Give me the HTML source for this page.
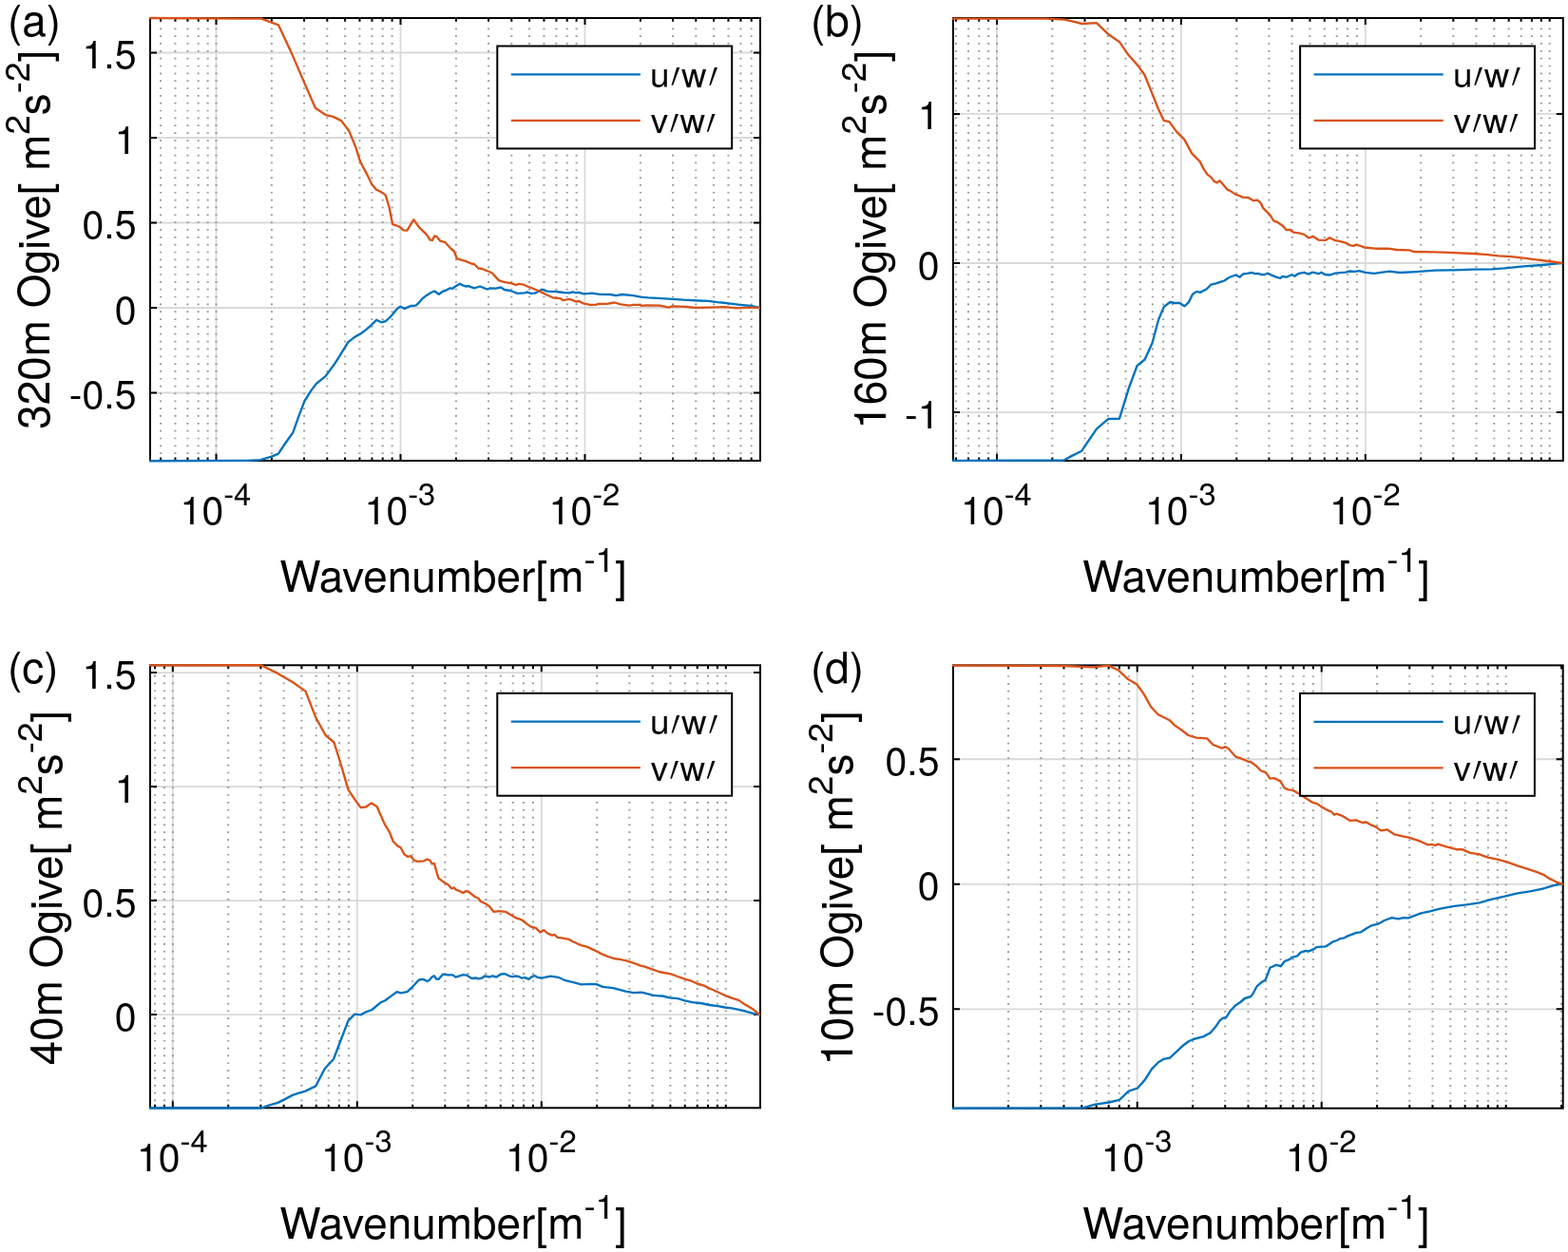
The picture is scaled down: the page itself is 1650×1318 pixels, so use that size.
<!DOCTYPE html>
<html><head><meta charset="utf-8"><style>
html,body{margin:0;padding:0;background:#fff;}
svg{display:block;}
.mg{stroke:#979797;stroke-width:2.0;stroke-dasharray:1.7 6.14;stroke-dashoffset:0.85;}
.Mg{stroke:#d9d9d9;stroke-width:1.8;}
</style></head><body>
<svg width="1650" height="1318" viewBox="0 0 1650 1318" font-family="TeX Gyre Heros, Liberation Sans, Arial, sans-serif">
<rect width="1650" height="1318" fill="#fff"/>
<g><line x1="227.50" y1="485.00" x2="227.50" y2="19.00" class="Mg"/><line x1="421.50" y1="485.00" x2="421.50" y2="19.00" class="Mg"/><line x1="615.50" y1="485.00" x2="615.50" y2="19.00" class="Mg"/><line x1="158.00" y1="55.50" x2="800.00" y2="55.50" class="Mg"/><line x1="158.00" y1="145.00" x2="800.00" y2="145.00" class="Mg"/><line x1="158.00" y1="234.50" x2="800.00" y2="234.50" class="Mg"/><line x1="158.00" y1="324.00" x2="800.00" y2="324.00" class="Mg"/><line x1="158.00" y1="413.50" x2="800.00" y2="413.50" class="Mg"/><line x1="169.10" y1="485.00" x2="169.10" y2="19.00" class="mg"/><line x1="184.46" y1="485.00" x2="184.46" y2="19.00" class="mg"/><line x1="197.45" y1="485.00" x2="197.45" y2="19.00" class="mg"/><line x1="208.70" y1="485.00" x2="208.70" y2="19.00" class="mg"/><line x1="218.62" y1="485.00" x2="218.62" y2="19.00" class="mg"/><line x1="227.50" y1="485.00" x2="227.50" y2="19.00" class="mg"/><line x1="285.90" y1="485.00" x2="285.90" y2="19.00" class="mg"/><line x1="320.06" y1="485.00" x2="320.06" y2="19.00" class="mg"/><line x1="344.30" y1="485.00" x2="344.30" y2="19.00" class="mg"/><line x1="363.10" y1="485.00" x2="363.10" y2="19.00" class="mg"/><line x1="378.46" y1="485.00" x2="378.46" y2="19.00" class="mg"/><line x1="391.45" y1="485.00" x2="391.45" y2="19.00" class="mg"/><line x1="402.70" y1="485.00" x2="402.70" y2="19.00" class="mg"/><line x1="412.62" y1="485.00" x2="412.62" y2="19.00" class="mg"/><line x1="479.90" y1="485.00" x2="479.90" y2="19.00" class="mg"/><line x1="514.06" y1="485.00" x2="514.06" y2="19.00" class="mg"/><line x1="538.30" y1="485.00" x2="538.30" y2="19.00" class="mg"/><line x1="557.10" y1="485.00" x2="557.10" y2="19.00" class="mg"/><line x1="572.46" y1="485.00" x2="572.46" y2="19.00" class="mg"/><line x1="585.45" y1="485.00" x2="585.45" y2="19.00" class="mg"/><line x1="596.70" y1="485.00" x2="596.70" y2="19.00" class="mg"/><line x1="606.62" y1="485.00" x2="606.62" y2="19.00" class="mg"/><line x1="673.90" y1="485.00" x2="673.90" y2="19.00" class="mg"/><line x1="708.06" y1="485.00" x2="708.06" y2="19.00" class="mg"/><line x1="732.30" y1="485.00" x2="732.30" y2="19.00" class="mg"/><line x1="751.10" y1="485.00" x2="751.10" y2="19.00" class="mg"/><line x1="766.46" y1="485.00" x2="766.46" y2="19.00" class="mg"/><line x1="779.45" y1="485.00" x2="779.45" y2="19.00" class="mg"/><line x1="790.70" y1="485.00" x2="790.70" y2="19.00" class="mg"/></g>
<path d="M169.10 485.00v-3.6M169.10 19.00v3.6M184.46 485.00v-3.6M184.46 19.00v3.6M197.45 485.00v-3.6M197.45 19.00v3.6M208.70 485.00v-3.6M208.70 19.00v3.6M218.62 485.00v-3.6M218.62 19.00v3.6M227.50 485.00v-3.6M227.50 19.00v3.6M285.90 485.00v-3.6M285.90 19.00v3.6M320.06 485.00v-3.6M320.06 19.00v3.6M344.30 485.00v-3.6M344.30 19.00v3.6M363.10 485.00v-3.6M363.10 19.00v3.6M378.46 485.00v-3.6M378.46 19.00v3.6M391.45 485.00v-3.6M391.45 19.00v3.6M402.70 485.00v-3.6M402.70 19.00v3.6M412.62 485.00v-3.6M412.62 19.00v3.6M479.90 485.00v-3.6M479.90 19.00v3.6M514.06 485.00v-3.6M514.06 19.00v3.6M538.30 485.00v-3.6M538.30 19.00v3.6M557.10 485.00v-3.6M557.10 19.00v3.6M572.46 485.00v-3.6M572.46 19.00v3.6M585.45 485.00v-3.6M585.45 19.00v3.6M596.70 485.00v-3.6M596.70 19.00v3.6M606.62 485.00v-3.6M606.62 19.00v3.6M673.90 485.00v-3.6M673.90 19.00v3.6M708.06 485.00v-3.6M708.06 19.00v3.6M732.30 485.00v-3.6M732.30 19.00v3.6M751.10 485.00v-3.6M751.10 19.00v3.6M766.46 485.00v-3.6M766.46 19.00v3.6M779.45 485.00v-3.6M779.45 19.00v3.6M790.70 485.00v-3.6M790.70 19.00v3.6M227.50 485.00v-7.0M227.50 19.00v7.0M421.50 485.00v-7.0M421.50 19.00v7.0M615.50 485.00v-7.0M615.50 19.00v7.0M158.00 55.50h7.0M800.00 55.50h-7.0M158.00 145.00h7.0M800.00 145.00h-7.0M158.00 234.50h7.0M800.00 234.50h-7.0M158.00 324.00h7.0M800.00 324.00h-7.0M158.00 413.50h7.0M800.00 413.50h-7.0" stroke="#000" stroke-width="2" fill="none"/>
<rect x="158.00" y="19.00" width="642.00" height="466.00" fill="none" stroke="#000" stroke-width="2"/>
<polyline points="158.0,485.2 260.0,484.8 274.2,484.1 285.8,480.6 292.9,477.6 300.0,467.0 308.4,455.2 314.2,438.7 320.6,421.9 327.1,411.6 332.9,403.8 342.5,396.1 351.6,383.8 359.3,371.6 366.4,360.2 373.5,354.6 380.0,351.0 385.1,347.1 390.3,342.6 396.1,336.8 401.2,339.3 405.8,338.1 410.9,333.5 418.0,324.9 421.2,322.8 425.7,324.9 432.2,322.0 437.5,321.7 439.8,319.7 444.4,314.4 448.9,310.9 453.5,308.0 457.3,306.5 461.8,309.8 466.4,306.5 468.6,306.0 473.2,303.4 476.2,303.7 479.3,301.5 483.8,298.7 487.6,300.7 490.6,301.5 492.9,301.2 499.0,303.4 505.1,301.5 512.6,304.5 515.7,303.4 521.7,303.7 527.1,302.5 530.8,305.0 536.9,306.0 544.5,308.8 552.1,308.3 555.1,307.5 558.2,308.8 562.7,308.6 564.7,307.8 570.2,304.7 575.8,306.6 585.2,307.0 593.1,308.0 599.4,308.4 602.6,307.4 605.7,308.2 608.9,307.8 614.4,309.4 623.0,308.6 630.9,309.8 642.0,310.0 648.3,311.1 654.6,310.0 666.4,311.1 674.3,312.6 682.1,313.3 691.8,313.8 707.6,314.8 719.4,315.7 735.2,316.5 745.4,316.9 754.9,318.1 766.7,319.3 778.5,320.9 790.3,322.0 799.0,323.8" fill="none" stroke="#0072BD" stroke-width="2.35" stroke-linejoin="round" stroke-linecap="round" clip-path="url(#clipa)"/>
<polyline points="158.0,19.0 274.9,19.7 293.1,26.4 306.4,54.9 321.0,88.9 331.9,113.8 342.8,121.1 350.7,122.9 359.2,127.1 367.1,137.5 370.0,144.4 374.6,155.8 379.1,170.2 385.2,181.6 391.2,193.7 395.8,199.5 401.1,202.1 405.7,205.4 409.5,218.0 413.2,236.2 420.1,238.5 424.6,242.3 428.4,242.6 435.3,231.2 441.3,239.6 448.9,246.8 452.7,252.6 455.0,252.9 457.3,248.4 459.5,249.1 463.3,253.7 468.6,255.2 474.7,262.0 477.7,264.3 480.8,272.2 485.3,273.7 489.9,274.9 495.9,277.5 499.0,278.0 503.5,282.5 507.3,283.0 511.9,284.8 518.0,287.5 524.8,295.1 529.3,296.6 538.4,298.4 543.0,300.0 546.0,298.9 551.3,299.7 556.6,302.2 562.7,304.5 567.9,306.6 575.0,310.2 582.9,313.7 589.9,314.1 592.3,316.1 599.4,314.9 606.5,317.7 608.9,316.9 613.6,319.3 620.7,320.8 627.0,320.8 629.3,320.0 638.8,319.8 646.7,318.5 653.0,320.4 662.4,321.6 666.4,320.8 672.7,320.8 675.1,321.9 680.6,321.4 694.2,321.6 703.6,323.6 707.6,322.4 721.0,322.8 732.0,324.0 747.0,323.6 762.7,323.2 774.6,324.4 786.4,323.8 799.0,323.8" fill="none" stroke="#D95319" stroke-width="2.35" stroke-linejoin="round" stroke-linecap="round" clip-path="url(#clipa)"/>
<clipPath id="clipa"><rect x="156.0" y="17.0" width="646.0" height="470.0"/></clipPath>
<text x="143.5" y="72.0" font-size="41.0" text-anchor="end" fill="#000">1.5</text>
<text x="143.5" y="161.5" font-size="41.0" text-anchor="end" fill="#000">1</text>
<text x="143.5" y="251.0" font-size="41.0" text-anchor="end" fill="#000">0.5</text>
<text x="143.5" y="340.5" font-size="41.0" text-anchor="end" fill="#000">0</text>
<text x="143.5" y="430.0" font-size="41.0" text-anchor="end" fill="#000">-0.5</text>
<text x="227.0" y="551.5" font-size="41.0" text-anchor="middle" fill="#000">10<tspan font-size="32.8" dy="-20">-4</tspan></text>
<text x="421.0" y="551.5" font-size="41.0" text-anchor="middle" fill="#000">10<tspan font-size="32.8" dy="-20">-3</tspan></text>
<text x="615.0" y="551.5" font-size="41.0" text-anchor="middle" fill="#000">10<tspan font-size="32.8" dy="-20">-2</tspan></text>
<text x="477.0" y="622.5" font-size="45.9" text-anchor="middle" fill="#000">Wavenumber[m<tspan font-size="36.7" dy="-21">-1</tspan><tspan dy="21">]</tspan></text>
<text transform="translate(51.9,252.3) rotate(-90)" font-size="45.9" text-anchor="middle" fill="#000">320m Ogive[ m<tspan font-size="36.7" dy="-21">2</tspan><tspan dy="21">s</tspan><tspan font-size="36.7" dy="-21">-2</tspan><tspan dy="21">]</tspan></text>
<text x="8.0" y="37.5" font-size="45.9" fill="#000">(a)</text>
<rect x="523.30" y="48.50" width="246.90" height="107.90" fill="#fff" stroke="#000" stroke-width="2"/>
<line x1="537.8" y1="78.4" x2="673.9" y2="78.4" stroke="#0072BD" stroke-width="2.2"/>
<line x1="537.8" y1="126.9" x2="673.9" y2="126.9" stroke="#D95319" stroke-width="2.2"/>
<text x="684.1" y="91.9" font-size="36.9" fill="#000">u<tspan dx="12.3">w</tspan></text>
<text transform="translate(697.41,122.20) skewX(-13.4) scale(0.45,1)" font-family="Liberation Sans, sans-serif" font-size="74.2" fill="#000">′</text>
<text transform="translate(737.21,122.20) skewX(-13.4) scale(0.45,1)" font-family="Liberation Sans, sans-serif" font-size="74.2" fill="#000">′</text>
<text x="684.7" y="140.4" font-size="36.9" fill="#000">v<tspan dx="12.25">w</tspan></text>
<text transform="translate(696.21,170.70) skewX(-13.4) scale(0.45,1)" font-family="Liberation Sans, sans-serif" font-size="74.2" fill="#000">′</text>
<text transform="translate(734.71,170.70) skewX(-13.4) scale(0.45,1)" font-family="Liberation Sans, sans-serif" font-size="74.2" fill="#000">′</text>
<g><line x1="1049.00" y1="485.00" x2="1049.00" y2="19.00" class="Mg"/><line x1="1242.90" y1="485.00" x2="1242.90" y2="19.00" class="Mg"/><line x1="1436.80" y1="485.00" x2="1436.80" y2="19.00" class="Mg"/><line x1="1003.00" y1="119.90" x2="1644.80" y2="119.90" class="Mg"/><line x1="1003.00" y1="277.00" x2="1644.80" y2="277.00" class="Mg"/><line x1="1003.00" y1="434.10" x2="1644.80" y2="434.10" class="Mg"/><line x1="1005.98" y1="485.00" x2="1005.98" y2="19.00" class="mg"/><line x1="1018.96" y1="485.00" x2="1018.96" y2="19.00" class="mg"/><line x1="1030.21" y1="485.00" x2="1030.21" y2="19.00" class="mg"/><line x1="1040.13" y1="485.00" x2="1040.13" y2="19.00" class="mg"/><line x1="1049.00" y1="485.00" x2="1049.00" y2="19.00" class="mg"/><line x1="1107.37" y1="485.00" x2="1107.37" y2="19.00" class="mg"/><line x1="1141.51" y1="485.00" x2="1141.51" y2="19.00" class="mg"/><line x1="1165.74" y1="485.00" x2="1165.74" y2="19.00" class="mg"/><line x1="1184.53" y1="485.00" x2="1184.53" y2="19.00" class="mg"/><line x1="1199.88" y1="485.00" x2="1199.88" y2="19.00" class="mg"/><line x1="1212.86" y1="485.00" x2="1212.86" y2="19.00" class="mg"/><line x1="1224.11" y1="485.00" x2="1224.11" y2="19.00" class="mg"/><line x1="1234.03" y1="485.00" x2="1234.03" y2="19.00" class="mg"/><line x1="1301.27" y1="485.00" x2="1301.27" y2="19.00" class="mg"/><line x1="1335.41" y1="485.00" x2="1335.41" y2="19.00" class="mg"/><line x1="1359.64" y1="485.00" x2="1359.64" y2="19.00" class="mg"/><line x1="1378.43" y1="485.00" x2="1378.43" y2="19.00" class="mg"/><line x1="1393.78" y1="485.00" x2="1393.78" y2="19.00" class="mg"/><line x1="1406.76" y1="485.00" x2="1406.76" y2="19.00" class="mg"/><line x1="1418.01" y1="485.00" x2="1418.01" y2="19.00" class="mg"/><line x1="1427.93" y1="485.00" x2="1427.93" y2="19.00" class="mg"/><line x1="1495.17" y1="485.00" x2="1495.17" y2="19.00" class="mg"/><line x1="1529.31" y1="485.00" x2="1529.31" y2="19.00" class="mg"/><line x1="1553.54" y1="485.00" x2="1553.54" y2="19.00" class="mg"/><line x1="1572.33" y1="485.00" x2="1572.33" y2="19.00" class="mg"/><line x1="1587.68" y1="485.00" x2="1587.68" y2="19.00" class="mg"/><line x1="1600.66" y1="485.00" x2="1600.66" y2="19.00" class="mg"/><line x1="1611.91" y1="485.00" x2="1611.91" y2="19.00" class="mg"/><line x1="1621.83" y1="485.00" x2="1621.83" y2="19.00" class="mg"/><line x1="1630.70" y1="485.00" x2="1630.70" y2="19.00" class="mg"/></g>
<path d="M1005.98 485.00v-3.6M1005.98 19.00v3.6M1018.96 485.00v-3.6M1018.96 19.00v3.6M1030.21 485.00v-3.6M1030.21 19.00v3.6M1040.13 485.00v-3.6M1040.13 19.00v3.6M1049.00 485.00v-3.6M1049.00 19.00v3.6M1107.37 485.00v-3.6M1107.37 19.00v3.6M1141.51 485.00v-3.6M1141.51 19.00v3.6M1165.74 485.00v-3.6M1165.74 19.00v3.6M1184.53 485.00v-3.6M1184.53 19.00v3.6M1199.88 485.00v-3.6M1199.88 19.00v3.6M1212.86 485.00v-3.6M1212.86 19.00v3.6M1224.11 485.00v-3.6M1224.11 19.00v3.6M1234.03 485.00v-3.6M1234.03 19.00v3.6M1301.27 485.00v-3.6M1301.27 19.00v3.6M1335.41 485.00v-3.6M1335.41 19.00v3.6M1359.64 485.00v-3.6M1359.64 19.00v3.6M1378.43 485.00v-3.6M1378.43 19.00v3.6M1393.78 485.00v-3.6M1393.78 19.00v3.6M1406.76 485.00v-3.6M1406.76 19.00v3.6M1418.01 485.00v-3.6M1418.01 19.00v3.6M1427.93 485.00v-3.6M1427.93 19.00v3.6M1495.17 485.00v-3.6M1495.17 19.00v3.6M1529.31 485.00v-3.6M1529.31 19.00v3.6M1553.54 485.00v-3.6M1553.54 19.00v3.6M1572.33 485.00v-3.6M1572.33 19.00v3.6M1587.68 485.00v-3.6M1587.68 19.00v3.6M1600.66 485.00v-3.6M1600.66 19.00v3.6M1611.91 485.00v-3.6M1611.91 19.00v3.6M1621.83 485.00v-3.6M1621.83 19.00v3.6M1630.70 485.00v-3.6M1630.70 19.00v3.6M1049.00 485.00v-7.0M1049.00 19.00v7.0M1242.90 485.00v-7.0M1242.90 19.00v7.0M1436.80 485.00v-7.0M1436.80 19.00v7.0M1003.00 119.90h7.0M1644.80 119.90h-7.0M1003.00 277.00h7.0M1644.80 277.00h-7.0M1003.00 434.10h7.0M1644.80 434.10h-7.0" stroke="#000" stroke-width="2" fill="none"/>
<rect x="1003.00" y="19.00" width="641.80" height="466.00" fill="none" stroke="#000" stroke-width="2"/>
<polyline points="1003.0,484.9 1119.5,484.5 1127.5,480.1 1138.3,474.7 1146.2,462.8 1154.1,451.3 1166.4,440.9 1177.9,440.9 1188.0,408.1 1196.6,385.0 1204.6,378.5 1212.5,361.2 1219.0,336.7 1224.7,323.1 1231.2,318.0 1235.6,319.0 1241.3,319.0 1246.4,322.3 1250.7,318.4 1255.0,309.8 1259.3,306.9 1262.9,307.9 1269.8,304.3 1274.2,299.7 1279.6,298.3 1284.0,296.9 1288.4,295.5 1292.7,292.5 1296.0,291.0 1300.4,289.5 1304.7,291.7 1308.0,288.5 1312.4,287.9 1317.3,287.0 1320.5,288.2 1323.8,287.9 1327.6,289.2 1330.9,289.0 1334.2,287.7 1338.5,289.9 1342.9,291.7 1347.3,292.8 1349.5,291.0 1353.8,291.7 1359.3,289.2 1362.5,290.7 1365.8,288.2 1372.4,286.8 1376.7,288.5 1381.1,286.6 1387.6,288.2 1390.4,286.8 1394.2,289.0 1399.6,289.5 1405.1,287.7 1410.5,287.1 1416.0,286.6 1420.4,285.5 1425.8,285.9 1430.2,285.2 1436.7,286.8 1446.0,287.9 1462.0,285.7 1472.7,287.0 1490.0,286.1 1510.0,284.7 1530.0,284.3 1550.0,283.7 1570.0,283.3 1583.3,282.3 1603.3,280.3 1623.3,279.0 1636.7,277.7 1643.3,277.0" fill="none" stroke="#0072BD" stroke-width="2.35" stroke-linejoin="round" stroke-linecap="round" clip-path="url(#clipb)"/>
<polyline points="1003.0,19.6 1100.0,19.6 1120.5,20.7 1138.9,25.0 1153.9,24.1 1166.9,36.6 1177.8,43.9 1187.4,57.8 1197.7,69.4 1204.5,79.0 1212.0,97.4 1218.8,114.5 1224.6,126.8 1230.4,128.1 1237.9,138.4 1246.1,146.6 1254.3,161.6 1262.5,169.8 1266.5,177.6 1270.4,183.6 1274.2,186.4 1277.5,190.7 1280.7,192.4 1283.5,190.2 1287.3,194.5 1291.6,199.7 1294.9,201.1 1299.8,204.4 1303.6,205.8 1307.5,207.6 1313.5,208.0 1318.9,211.2 1323.3,210.6 1326.5,213.6 1329.3,219.1 1336.4,226.2 1340.2,232.4 1344.0,233.8 1349.5,237.4 1353.8,242.2 1357.1,241.8 1361.5,244.7 1366.9,245.3 1372.4,246.9 1377.3,250.5 1381.6,248.8 1387.6,252.7 1394.7,252.9 1399.1,250.2 1405.1,253.1 1409.4,253.8 1416.0,255.6 1420.4,258.1 1424.2,258.9 1426.9,257.6 1431.8,258.9 1435.6,260.5 1447.3,261.7 1460.7,261.7 1470.0,263.0 1483.3,263.4 1487.3,265.0 1510.0,265.3 1530.0,266.1 1550.0,267.0 1563.3,267.9 1576.7,269.3 1590.0,270.1 1603.3,271.7 1616.7,273.3 1630.0,275.0 1643.3,277.0" fill="none" stroke="#D95319" stroke-width="2.35" stroke-linejoin="round" stroke-linecap="round" clip-path="url(#clipb)"/>
<clipPath id="clipb"><rect x="1001.0" y="17.0" width="645.8" height="470.0"/></clipPath>
<text x="988.5" y="136.4" font-size="41.0" text-anchor="end" fill="#000">1</text>
<text x="988.5" y="293.5" font-size="41.0" text-anchor="end" fill="#000">0</text>
<text x="988.5" y="450.6" font-size="41.0" text-anchor="end" fill="#000">-1</text>
<text x="1048.5" y="551.5" font-size="41.0" text-anchor="middle" fill="#000">10<tspan font-size="32.8" dy="-20">-4</tspan></text>
<text x="1242.4" y="551.5" font-size="41.0" text-anchor="middle" fill="#000">10<tspan font-size="32.8" dy="-20">-3</tspan></text>
<text x="1436.3" y="551.5" font-size="41.0" text-anchor="middle" fill="#000">10<tspan font-size="32.8" dy="-20">-2</tspan></text>
<text x="1321.9" y="622.5" font-size="45.9" text-anchor="middle" fill="#000">Wavenumber[m<tspan font-size="36.7" dy="-21">-1</tspan><tspan dy="21">]</tspan></text>
<text transform="translate(932.2,252.3) rotate(-90)" font-size="45.9" text-anchor="middle" fill="#000">160m Ogive[ m<tspan font-size="36.7" dy="-21">2</tspan><tspan dy="21">s</tspan><tspan font-size="36.7" dy="-21">-2</tspan><tspan dy="21">]</tspan></text>
<text x="853.0" y="37.5" font-size="45.9" fill="#000">(b)</text>
<rect x="1368.10" y="48.50" width="246.90" height="107.90" fill="#fff" stroke="#000" stroke-width="2"/>
<line x1="1382.6" y1="78.4" x2="1518.7" y2="78.4" stroke="#0072BD" stroke-width="2.2"/>
<line x1="1382.6" y1="126.9" x2="1518.7" y2="126.9" stroke="#D95319" stroke-width="2.2"/>
<text x="1528.9" y="91.9" font-size="36.9" fill="#000">u<tspan dx="12.3">w</tspan></text>
<text transform="translate(1542.21,122.20) skewX(-13.4) scale(0.45,1)" font-family="Liberation Sans, sans-serif" font-size="74.2" fill="#000">′</text>
<text transform="translate(1582.01,122.20) skewX(-13.4) scale(0.45,1)" font-family="Liberation Sans, sans-serif" font-size="74.2" fill="#000">′</text>
<text x="1529.5" y="140.4" font-size="36.9" fill="#000">v<tspan dx="12.25">w</tspan></text>
<text transform="translate(1541.01,170.70) skewX(-13.4) scale(0.45,1)" font-family="Liberation Sans, sans-serif" font-size="74.2" fill="#000">′</text>
<text transform="translate(1579.51,170.70) skewX(-13.4) scale(0.45,1)" font-family="Liberation Sans, sans-serif" font-size="74.2" fill="#000">′</text>
<g><line x1="181.80" y1="1166.30" x2="181.80" y2="700.30" class="Mg"/><line x1="375.80" y1="1166.30" x2="375.80" y2="700.30" class="Mg"/><line x1="569.80" y1="1166.30" x2="569.80" y2="700.30" class="Mg"/><line x1="158.00" y1="708.10" x2="800.00" y2="708.10" class="Mg"/><line x1="158.00" y1="828.10" x2="800.00" y2="828.10" class="Mg"/><line x1="158.00" y1="948.10" x2="800.00" y2="948.10" class="Mg"/><line x1="158.00" y1="1068.10" x2="800.00" y2="1068.10" class="Mg"/><line x1="163.00" y1="1166.30" x2="163.00" y2="700.30" class="mg"/><line x1="172.92" y1="1166.30" x2="172.92" y2="700.30" class="mg"/><line x1="181.80" y1="1166.30" x2="181.80" y2="700.30" class="mg"/><line x1="240.20" y1="1166.30" x2="240.20" y2="700.30" class="mg"/><line x1="274.36" y1="1166.30" x2="274.36" y2="700.30" class="mg"/><line x1="298.60" y1="1166.30" x2="298.60" y2="700.30" class="mg"/><line x1="317.40" y1="1166.30" x2="317.40" y2="700.30" class="mg"/><line x1="332.76" y1="1166.30" x2="332.76" y2="700.30" class="mg"/><line x1="345.75" y1="1166.30" x2="345.75" y2="700.30" class="mg"/><line x1="357.00" y1="1166.30" x2="357.00" y2="700.30" class="mg"/><line x1="366.92" y1="1166.30" x2="366.92" y2="700.30" class="mg"/><line x1="434.20" y1="1166.30" x2="434.20" y2="700.30" class="mg"/><line x1="468.36" y1="1166.30" x2="468.36" y2="700.30" class="mg"/><line x1="492.60" y1="1166.30" x2="492.60" y2="700.30" class="mg"/><line x1="511.40" y1="1166.30" x2="511.40" y2="700.30" class="mg"/><line x1="526.76" y1="1166.30" x2="526.76" y2="700.30" class="mg"/><line x1="539.75" y1="1166.30" x2="539.75" y2="700.30" class="mg"/><line x1="551.00" y1="1166.30" x2="551.00" y2="700.30" class="mg"/><line x1="560.92" y1="1166.30" x2="560.92" y2="700.30" class="mg"/><line x1="628.20" y1="1166.30" x2="628.20" y2="700.30" class="mg"/><line x1="662.36" y1="1166.30" x2="662.36" y2="700.30" class="mg"/><line x1="686.60" y1="1166.30" x2="686.60" y2="700.30" class="mg"/><line x1="705.40" y1="1166.30" x2="705.40" y2="700.30" class="mg"/><line x1="720.76" y1="1166.30" x2="720.76" y2="700.30" class="mg"/><line x1="733.75" y1="1166.30" x2="733.75" y2="700.30" class="mg"/><line x1="745.00" y1="1166.30" x2="745.00" y2="700.30" class="mg"/><line x1="754.92" y1="1166.30" x2="754.92" y2="700.30" class="mg"/><line x1="763.80" y1="1166.30" x2="763.80" y2="700.30" class="mg"/></g>
<path d="M163.00 1166.30v-3.6M163.00 700.30v3.6M172.92 1166.30v-3.6M172.92 700.30v3.6M181.80 1166.30v-3.6M181.80 700.30v3.6M240.20 1166.30v-3.6M240.20 700.30v3.6M274.36 1166.30v-3.6M274.36 700.30v3.6M298.60 1166.30v-3.6M298.60 700.30v3.6M317.40 1166.30v-3.6M317.40 700.30v3.6M332.76 1166.30v-3.6M332.76 700.30v3.6M345.75 1166.30v-3.6M345.75 700.30v3.6M357.00 1166.30v-3.6M357.00 700.30v3.6M366.92 1166.30v-3.6M366.92 700.30v3.6M434.20 1166.30v-3.6M434.20 700.30v3.6M468.36 1166.30v-3.6M468.36 700.30v3.6M492.60 1166.30v-3.6M492.60 700.30v3.6M511.40 1166.30v-3.6M511.40 700.30v3.6M526.76 1166.30v-3.6M526.76 700.30v3.6M539.75 1166.30v-3.6M539.75 700.30v3.6M551.00 1166.30v-3.6M551.00 700.30v3.6M560.92 1166.30v-3.6M560.92 700.30v3.6M628.20 1166.30v-3.6M628.20 700.30v3.6M662.36 1166.30v-3.6M662.36 700.30v3.6M686.60 1166.30v-3.6M686.60 700.30v3.6M705.40 1166.30v-3.6M705.40 700.30v3.6M720.76 1166.30v-3.6M720.76 700.30v3.6M733.75 1166.30v-3.6M733.75 700.30v3.6M745.00 1166.30v-3.6M745.00 700.30v3.6M754.92 1166.30v-3.6M754.92 700.30v3.6M763.80 1166.30v-3.6M763.80 700.30v3.6M181.80 1166.30v-7.0M181.80 700.30v7.0M375.80 1166.30v-7.0M375.80 700.30v7.0M569.80 1166.30v-7.0M569.80 700.30v7.0M158.00 708.10h7.0M800.00 708.10h-7.0M158.00 828.10h7.0M800.00 828.10h-7.0M158.00 948.10h7.0M800.00 948.10h-7.0M158.00 1068.10h7.0M800.00 1068.10h-7.0" stroke="#000" stroke-width="2" fill="none"/>
<rect x="158.00" y="700.30" width="642.00" height="466.00" fill="none" stroke="#000" stroke-width="2"/>
<polyline points="158.0,1166.5 274.8,1166.5 282.8,1163.6 292.4,1160.9 299.8,1157.1 308.4,1152.6 314.6,1150.6 321.4,1148.6 332.2,1143.4 341.9,1124.7 351.0,1115.0 357.3,1098.5 366.4,1074.6 373.2,1067.6 379.5,1068.4 385.2,1065.3 391.4,1063.0 399.9,1055.8 405.6,1053.0 412.5,1047.9 417.6,1044.2 421.6,1045.3 428.4,1044.1 434.1,1038.8 440.9,1031.5 445.5,1030.9 449.5,1033.0 452.3,1031.4 454.5,1028.5 456.8,1027.3 459.1,1030.5 461.4,1030.9 465.9,1025.7 471.8,1026.4 476.4,1026.4 479.5,1028.6 483.6,1027.3 487.3,1026.1 490.9,1026.6 496.4,1030.0 500.9,1029.5 503.6,1030.3 507.3,1029.5 510.0,1027.5 515.5,1028.5 518.2,1027.3 522.3,1028.5 526.4,1025.9 530.0,1025.2 532.7,1025.7 535.5,1027.3 539.1,1028.2 542.7,1027.5 546.4,1028.2 549.1,1029.7 552.7,1029.1 556.4,1030.9 559.1,1028.6 562.3,1027.0 565.5,1028.8 570.0,1029.7 579.2,1027.6 587.5,1028.8 595.0,1032.2 602.5,1033.8 611.7,1036.3 622.6,1035.8 627.6,1036.1 634.2,1038.8 645.1,1040.1 650.9,1041.6 658.4,1043.6 666.8,1045.1 675.1,1044.7 680.1,1045.9 686.8,1047.6 692.7,1048.3 697.3,1048.5 704.5,1050.4 713.3,1051.1 720.5,1053.3 728.5,1055.1 737.3,1056.0 746.7,1058.0 755.5,1059.1 762.7,1060.5 770.0,1061.3 777.3,1062.9 784.5,1064.5 791.8,1066.7 799.1,1068.0" fill="none" stroke="#0072BD" stroke-width="2.35" stroke-linejoin="round" stroke-linecap="round" clip-path="url(#clipc)"/>
<polyline points="158.0,700.3 274.3,700.2 291.4,708.4 307.8,718.0 321.5,727.6 332.4,755.6 342.6,774.0 351.5,781.5 358.3,803.4 366.5,831.4 373.4,841.6 379.5,850.1 385.0,849.5 390.8,845.4 396.6,849.1 405.1,868.2 409.7,875.6 413.7,885.8 418.2,890.4 421.6,892.3 425.6,899.5 429.0,901.8 432.4,901.2 435.8,905.8 439.8,906.9 446.1,906.3 449.5,904.6 452.3,905.5 454.6,909.4 456.9,908.9 461.4,924.5 466.0,927.9 471.7,931.4 475.1,935.3 477.9,934.4 479.6,936.5 483.1,937.8 487.0,940.1 489.9,938.2 492.7,938.5 496.7,941.6 500.1,944.2 503.5,945.8 505.8,949.0 510.9,951.3 514.9,954.1 519.5,959.8 525.2,959.2 532.0,959.8 536.5,962.6 543.4,966.6 547.9,967.8 551.3,970.0 554.7,972.9 558.2,975.4 563.8,976.9 568.4,981.4 572.4,979.1 576.4,982.6 580.8,984.6 583.4,983.8 586.7,986.9 592.5,987.7 598.4,988.8 602.5,991.0 608.4,993.8 611.7,995.2 618.4,996.9 623.4,999.4 628.4,1001.7 633.4,1004.4 640.1,1007.1 645.9,1009.0 653.4,1010.1 660.1,1011.6 668.5,1014.4 674.3,1016.7 678.5,1017.7 686.8,1020.7 693.5,1023.0 706.0,1025.4 711.8,1027.5 720.5,1030.7 727.8,1032.7 733.6,1035.5 740.9,1037.6 746.7,1040.5 754.0,1043.8 762.7,1047.8 770.0,1050.7 777.3,1052.9 783.1,1056.9 788.9,1060.2 793.3,1063.1 799.1,1068.0" fill="none" stroke="#D95319" stroke-width="2.35" stroke-linejoin="round" stroke-linecap="round" clip-path="url(#clipc)"/>
<clipPath id="clipc"><rect x="156.0" y="698.3" width="646.0" height="470.0"/></clipPath>
<text x="143.5" y="724.6" font-size="41.0" text-anchor="end" fill="#000">1.5</text>
<text x="143.5" y="844.6" font-size="41.0" text-anchor="end" fill="#000">1</text>
<text x="143.5" y="964.6" font-size="41.0" text-anchor="end" fill="#000">0.5</text>
<text x="143.5" y="1084.6" font-size="41.0" text-anchor="end" fill="#000">0</text>
<text x="181.3" y="1232.8" font-size="41.0" text-anchor="middle" fill="#000">10<tspan font-size="32.8" dy="-20">-4</tspan></text>
<text x="375.3" y="1232.8" font-size="41.0" text-anchor="middle" fill="#000">10<tspan font-size="32.8" dy="-20">-3</tspan></text>
<text x="569.3" y="1232.8" font-size="41.0" text-anchor="middle" fill="#000">10<tspan font-size="32.8" dy="-20">-2</tspan></text>
<text x="477.0" y="1303.8" font-size="45.9" text-anchor="middle" fill="#000">Wavenumber[m<tspan font-size="36.7" dy="-21">-1</tspan><tspan dy="21">]</tspan></text>
<text transform="translate(65.2,934.6) rotate(-90)" font-size="45.9" text-anchor="middle" fill="#000">40m Ogive[ m<tspan font-size="36.7" dy="-21">2</tspan><tspan dy="21">s</tspan><tspan font-size="36.7" dy="-21">-2</tspan><tspan dy="21">]</tspan></text>
<text x="8.0" y="718.8" font-size="45.9" fill="#000">(c)</text>
<rect x="523.30" y="729.80" width="246.90" height="107.90" fill="#fff" stroke="#000" stroke-width="2"/>
<line x1="537.8" y1="759.7" x2="673.9" y2="759.7" stroke="#0072BD" stroke-width="2.2"/>
<line x1="537.8" y1="808.2" x2="673.9" y2="808.2" stroke="#D95319" stroke-width="2.2"/>
<text x="684.1" y="773.2" font-size="36.9" fill="#000">u<tspan dx="12.3">w</tspan></text>
<text transform="translate(697.41,803.50) skewX(-13.4) scale(0.45,1)" font-family="Liberation Sans, sans-serif" font-size="74.2" fill="#000">′</text>
<text transform="translate(737.21,803.50) skewX(-13.4) scale(0.45,1)" font-family="Liberation Sans, sans-serif" font-size="74.2" fill="#000">′</text>
<text x="684.7" y="821.7" font-size="36.9" fill="#000">v<tspan dx="12.25">w</tspan></text>
<text transform="translate(696.21,852.00) skewX(-13.4) scale(0.45,1)" font-family="Liberation Sans, sans-serif" font-size="74.2" fill="#000">′</text>
<text transform="translate(734.71,852.00) skewX(-13.4) scale(0.45,1)" font-family="Liberation Sans, sans-serif" font-size="74.2" fill="#000">′</text>
<g><line x1="1196.70" y1="1166.70" x2="1196.70" y2="700.40" class="Mg"/><line x1="1390.70" y1="1166.70" x2="1390.70" y2="700.40" class="Mg"/><line x1="1003.00" y1="799.25" x2="1644.70" y2="799.25" class="Mg"/><line x1="1003.00" y1="930.80" x2="1644.70" y2="930.80" class="Mg"/><line x1="1003.00" y1="1062.35" x2="1644.70" y2="1062.35" class="Mg"/><line x1="1061.10" y1="1166.70" x2="1061.10" y2="700.40" class="mg"/><line x1="1095.26" y1="1166.70" x2="1095.26" y2="700.40" class="mg"/><line x1="1119.50" y1="1166.70" x2="1119.50" y2="700.40" class="mg"/><line x1="1138.30" y1="1166.70" x2="1138.30" y2="700.40" class="mg"/><line x1="1153.66" y1="1166.70" x2="1153.66" y2="700.40" class="mg"/><line x1="1166.65" y1="1166.70" x2="1166.65" y2="700.40" class="mg"/><line x1="1177.90" y1="1166.70" x2="1177.90" y2="700.40" class="mg"/><line x1="1187.82" y1="1166.70" x2="1187.82" y2="700.40" class="mg"/><line x1="1255.10" y1="1166.70" x2="1255.10" y2="700.40" class="mg"/><line x1="1289.26" y1="1166.70" x2="1289.26" y2="700.40" class="mg"/><line x1="1313.50" y1="1166.70" x2="1313.50" y2="700.40" class="mg"/><line x1="1332.30" y1="1166.70" x2="1332.30" y2="700.40" class="mg"/><line x1="1347.66" y1="1166.70" x2="1347.66" y2="700.40" class="mg"/><line x1="1360.65" y1="1166.70" x2="1360.65" y2="700.40" class="mg"/><line x1="1371.90" y1="1166.70" x2="1371.90" y2="700.40" class="mg"/><line x1="1381.82" y1="1166.70" x2="1381.82" y2="700.40" class="mg"/><line x1="1449.10" y1="1166.70" x2="1449.10" y2="700.40" class="mg"/><line x1="1483.26" y1="1166.70" x2="1483.26" y2="700.40" class="mg"/><line x1="1507.50" y1="1166.70" x2="1507.50" y2="700.40" class="mg"/><line x1="1526.30" y1="1166.70" x2="1526.30" y2="700.40" class="mg"/><line x1="1541.66" y1="1166.70" x2="1541.66" y2="700.40" class="mg"/><line x1="1554.65" y1="1166.70" x2="1554.65" y2="700.40" class="mg"/><line x1="1565.90" y1="1166.70" x2="1565.90" y2="700.40" class="mg"/><line x1="1575.82" y1="1166.70" x2="1575.82" y2="700.40" class="mg"/><line x1="1584.70" y1="1166.70" x2="1584.70" y2="700.40" class="mg"/><line x1="1643.10" y1="1166.70" x2="1643.10" y2="700.40" class="mg"/></g>
<path d="M1061.10 1166.70v-3.6M1061.10 700.40v3.6M1095.26 1166.70v-3.6M1095.26 700.40v3.6M1119.50 1166.70v-3.6M1119.50 700.40v3.6M1138.30 1166.70v-3.6M1138.30 700.40v3.6M1153.66 1166.70v-3.6M1153.66 700.40v3.6M1166.65 1166.70v-3.6M1166.65 700.40v3.6M1177.90 1166.70v-3.6M1177.90 700.40v3.6M1187.82 1166.70v-3.6M1187.82 700.40v3.6M1255.10 1166.70v-3.6M1255.10 700.40v3.6M1289.26 1166.70v-3.6M1289.26 700.40v3.6M1313.50 1166.70v-3.6M1313.50 700.40v3.6M1332.30 1166.70v-3.6M1332.30 700.40v3.6M1347.66 1166.70v-3.6M1347.66 700.40v3.6M1360.65 1166.70v-3.6M1360.65 700.40v3.6M1371.90 1166.70v-3.6M1371.90 700.40v3.6M1381.82 1166.70v-3.6M1381.82 700.40v3.6M1449.10 1166.70v-3.6M1449.10 700.40v3.6M1483.26 1166.70v-3.6M1483.26 700.40v3.6M1507.50 1166.70v-3.6M1507.50 700.40v3.6M1526.30 1166.70v-3.6M1526.30 700.40v3.6M1541.66 1166.70v-3.6M1541.66 700.40v3.6M1554.65 1166.70v-3.6M1554.65 700.40v3.6M1565.90 1166.70v-3.6M1565.90 700.40v3.6M1575.82 1166.70v-3.6M1575.82 700.40v3.6M1584.70 1166.70v-3.6M1584.70 700.40v3.6M1643.10 1166.70v-3.6M1643.10 700.40v3.6M1196.70 1166.70v-7.0M1196.70 700.40v7.0M1390.70 1166.70v-7.0M1390.70 700.40v7.0M1003.00 799.25h7.0M1644.70 799.25h-7.0M1003.00 930.80h7.0M1644.70 930.80h-7.0M1003.00 1062.35h7.0M1644.70 1062.35h-7.0" stroke="#000" stroke-width="2" fill="none"/>
<rect x="1003.00" y="700.40" width="641.70" height="466.30" fill="none" stroke="#000" stroke-width="2"/>
<polyline points="1003.0,1166.8 1139.1,1166.4 1152.5,1162.7 1167.1,1160.5 1178.0,1157.9 1187.7,1148.6 1196.8,1145.7 1204.7,1136.9 1212.0,1125.3 1219.3,1118.0 1225.3,1114.6 1230.8,1113.8 1237.5,1107.7 1244.7,1100.8 1250.8,1096.2 1255.7,1094.0 1266.6,1091.1 1273.9,1087.1 1278.7,1081.6 1283.6,1074.3 1286.6,1071.9 1290.4,1070.8 1295.0,1063.7 1300.7,1057.9 1305.3,1055.0 1309.9,1051.0 1315.7,1049.3 1318.0,1047.0 1322.6,1038.3 1327.2,1034.3 1331.8,1031.4 1336.4,1018.8 1342.8,1015.9 1347.9,1017.0 1352.0,1011.8 1357.2,1009.8 1359.5,1007.8 1365.2,1006.3 1368.7,1002.6 1373.9,1000.9 1376.7,1001.7 1382.5,999.2 1385.4,997.1 1390.5,996.6 1395.2,996.3 1402.1,991.7 1406.7,990.0 1410.1,988.2 1413.6,987.7 1418.2,985.4 1422.8,983.6 1427.4,981.9 1432.0,981.3 1438.9,976.7 1443.3,974.3 1450.0,972.7 1456.7,969.0 1464.7,966.1 1471.3,967.4 1476.7,966.1 1482.0,966.3 1487.3,964.3 1495.3,961.3 1504.7,959.4 1515.3,956.7 1528.7,954.1 1543.3,952.3 1556.7,950.3 1570.0,946.6 1583.3,943.7 1596.7,940.3 1610.0,938.3 1623.3,935.7 1634.0,932.3 1643.3,930.6" fill="none" stroke="#0072BD" stroke-width="2.35" stroke-linejoin="round" stroke-linecap="round" clip-path="url(#clipd)"/>
<polyline points="1003.0,700.6 1120.0,701.0 1150.0,702.3 1166.4,700.6 1177.3,705.8 1187.1,715.1 1196.4,720.5 1203.5,730.4 1211.1,744.0 1218.7,752.2 1226.4,756.0 1230.7,758.2 1236.2,763.6 1242.7,768.0 1250.4,774.0 1259.1,776.7 1270.0,777.3 1276.5,784.0 1285.8,787.6 1289.6,786.2 1292.9,788.2 1300.5,796.7 1307.1,798.9 1313.6,801.8 1315.8,801.8 1322.4,806.7 1326.7,811.3 1327.1,811.5 1332.0,813.1 1336.4,819.6 1340.7,819.1 1347.3,822.4 1351.6,829.5 1356.0,831.4 1360.4,831.9 1366.9,835.5 1374.5,840.4 1381.1,844.7 1386.5,846.4 1390.9,849.6 1396.4,852.7 1400.7,854.3 1404.0,857.8 1406.2,856.7 1412.7,858.9 1420.4,863.8 1426.9,863.3 1433.5,866.0 1437.8,865.5 1442.2,868.2 1447.6,870.4 1453.1,874.4 1459.6,873.3 1467.3,878.3 1474.9,880.2 1482.5,881.6 1490.0,884.2 1495.8,886.2 1502.6,889.4 1506.5,888.8 1510.4,890.0 1513.3,888.6 1522.0,891.3 1532.7,894.2 1538.5,894.2 1547.2,897.8 1555.9,899.2 1565.6,902.6 1575.3,904.6 1585.0,907.2 1596.7,911.4 1606.4,914.3 1616.1,917.7 1623.8,920.6 1630.6,924.9 1637.4,928.3 1644.2,930.8" fill="none" stroke="#D95319" stroke-width="2.35" stroke-linejoin="round" stroke-linecap="round" clip-path="url(#clipd)"/>
<clipPath id="clipd"><rect x="1001.0" y="698.4" width="645.7" height="470.30000000000007"/></clipPath>
<text x="988.5" y="815.8" font-size="41.0" text-anchor="end" fill="#000">0.5</text>
<text x="988.5" y="947.3" font-size="41.0" text-anchor="end" fill="#000">0</text>
<text x="988.5" y="1078.8" font-size="41.0" text-anchor="end" fill="#000">-0.5</text>
<text x="1196.2" y="1233.2" font-size="41.0" text-anchor="middle" fill="#000">10<tspan font-size="32.8" dy="-20">-3</tspan></text>
<text x="1390.2" y="1233.2" font-size="41.0" text-anchor="middle" fill="#000">10<tspan font-size="32.8" dy="-20">-2</tspan></text>
<text x="1321.8" y="1304.2" font-size="45.9" text-anchor="middle" fill="#000">Wavenumber[m<tspan font-size="36.7" dy="-21">-1</tspan><tspan dy="21">]</tspan></text>
<text transform="translate(896.9,935.0) rotate(-90)" font-size="45.9" text-anchor="middle" fill="#000">10m Ogive[ m<tspan font-size="36.7" dy="-21">2</tspan><tspan dy="21">s</tspan><tspan font-size="36.7" dy="-21">-2</tspan><tspan dy="21">]</tspan></text>
<text x="853.0" y="718.9" font-size="45.9" fill="#000">(d)</text>
<rect x="1368.00" y="729.90" width="246.90" height="107.90" fill="#fff" stroke="#000" stroke-width="2"/>
<line x1="1382.5" y1="759.8" x2="1518.6" y2="759.8" stroke="#0072BD" stroke-width="2.2"/>
<line x1="1382.5" y1="808.3" x2="1518.6" y2="808.3" stroke="#D95319" stroke-width="2.2"/>
<text x="1528.8" y="773.3" font-size="36.9" fill="#000">u<tspan dx="12.3">w</tspan></text>
<text transform="translate(1542.11,803.60) skewX(-13.4) scale(0.45,1)" font-family="Liberation Sans, sans-serif" font-size="74.2" fill="#000">′</text>
<text transform="translate(1581.91,803.60) skewX(-13.4) scale(0.45,1)" font-family="Liberation Sans, sans-serif" font-size="74.2" fill="#000">′</text>
<text x="1529.4" y="821.8" font-size="36.9" fill="#000">v<tspan dx="12.25">w</tspan></text>
<text transform="translate(1540.91,852.10) skewX(-13.4) scale(0.45,1)" font-family="Liberation Sans, sans-serif" font-size="74.2" fill="#000">′</text>
<text transform="translate(1579.41,852.10) skewX(-13.4) scale(0.45,1)" font-family="Liberation Sans, sans-serif" font-size="74.2" fill="#000">′</text>
</svg>
</body></html>
